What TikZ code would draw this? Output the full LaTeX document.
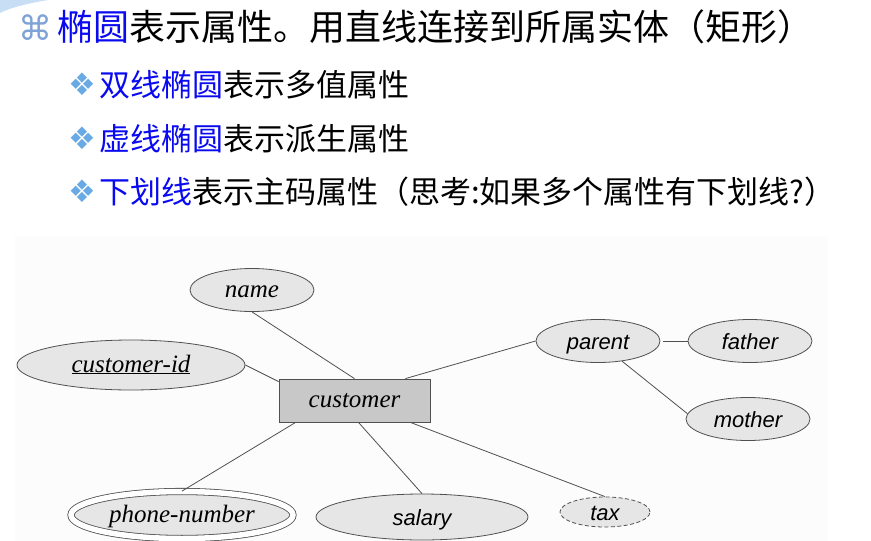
\documentclass[tikz,border=0pt]{standalone}
\usepackage{fontspec}
\usetikzlibrary{shapes.geometric,calc}
\newfontfamily\cjk{Noto Sans CJK SC}
\newfontfamily\symf{DejaVu Sans}
\newfontfamily\lsans{Liberation Sans}
\newfontfamily\lserif{Liberation Serif}
\definecolor{lineg}{HTML}{505050}
\definecolor{ellf}{HTML}{E6E6E6}
\definecolor{rectf}{HTML}{C8C8C8}
\definecolor{cmdblue}{HTML}{7FA3D6}
\definecolor{diablue}{HTML}{6AAAE4}
\definecolor{kw}{HTML}{0A0AF0}
\definecolor{swoosh}{HTML}{C8DEF5}
\definecolor{panel}{HTML}{FCFCFC}
\begin{document}
\begin{tikzpicture}[x=1pt,y=-1pt,
  attr/.style={ellipse, draw=lineg, fill=ellf, line width=0.8pt, inner sep=0pt},
  serifl/.style={font=\lserif\fontsize{25}{28}\selectfont\itshape, text height=14pt, text depth=0pt},
  sansl/.style={font=\lsans\fontsize{22}{25}\selectfont\itshape, text height=16pt, text depth=0pt},
  entity/.style={rectangle, draw=lineg, fill=rectf, line width=0.8pt, inner sep=0pt},
  conn/.style={draw=lineg, line width=0.8pt},
  titleline/.style={anchor=base west, inner sep=0pt},
  cmdbullet/.style={font=\symf\fontsize{34}{36}\selectfont, text=cmdblue, inner sep=0pt},
  diabullet/.style={font=\symf\fontsize{31}{33}\selectfont, text=diablue, inner sep=0pt},
]
\useasboundingbox (0,0) rectangle (871,541);
% decorations
\fill[swoosh] (0,0) -- (48,0) .. controls (30,3) and (12,7) .. (0,13) -- cycle;
\fill[panel] (15,236) rectangle (828,541);

% title text
\node[cmdbullet] (b1) at (35,28) {⌘};
\node[titleline, font=\cjk\fontsize{36}{40}\selectfont] (t1) at (57,40) {\textcolor{kw}{椭圆}表示属性。用直线连接到所属实体（矩形）};
\node[diabullet] (b2) at (82,84) {❖};
\node[titleline, font=\cjk\fontsize{31}{34}\selectfont] (t2) at (99,96) {\textcolor{kw}{双线椭圆}表示多值属性};
\node[diabullet] (b3) at (82,138) {❖};
\node[titleline, font=\cjk\fontsize{31}{34}\selectfont] (t3) at (99,150) {\textcolor{kw}{虚线椭圆}表示派生属性};
\node[diabullet] (b4) at (82,191) {❖};
\node[titleline, font=\cjk\fontsize{31}{34}\selectfont] (t4) at (99,203) {\textcolor{kw}{下划线}表示主码属性（思考:如果多个属性有下划线?）};

% E-R diagram
\node[entity, serifl, minimum width=151pt, minimum height=43pt] (customer) at (354.5,400.5) {customer};
\node[attr, serifl, minimum width=124pt, minimum height=43pt] (name) at (252,290) {name};
\node[attr, serifl, minimum width=228pt, minimum height=50pt] (cid) at (131,365) {\underline{customer-id}};
\node[attr, serifl, minimum width=222pt, minimum height=47pt, double, double distance=5.5pt] (phone) at (182,515) {phone-number};
\node[attr, sansl, minimum width=212pt, minimum height=46pt] (salary) at (422,517) {salary};
\node[attr, sansl, minimum width=90pt, minimum height=30pt, dash pattern=on 4pt off 2.5pt] (tax) at (605,512) {tax};
\node[attr, sansl, minimum width=124pt, minimum height=43pt] (parent) at (598,341) {parent};
\node[attr, sansl, minimum width=124pt, minimum height=43pt] (father) at (750,341) {father};
\node[attr, sansl, minimum width=124pt, minimum height=43pt] (mother) at (748,419) {mother};

\draw[conn] (name.south) -- (customer.north);
\draw[conn] (cid.east) -- ($(customer.north west)+(0,3)$);
\draw[conn] ($(customer.north east)+(-25,0)$) -- (parent.west);
\draw[conn, shorten <=3pt] (parent.east) -- (father.west);
\draw[conn] (parent.-40) -- (mother.175);
\draw[conn] ($(customer.south west)+(17,0)$) -- (phone.north);
\draw[conn] ($(customer.south)+(4,0)$) -- (salary.north);
\draw[conn] ($(customer.south east)+(-20,0)$) -- (tax.north);
\end{tikzpicture}
\end{document}
